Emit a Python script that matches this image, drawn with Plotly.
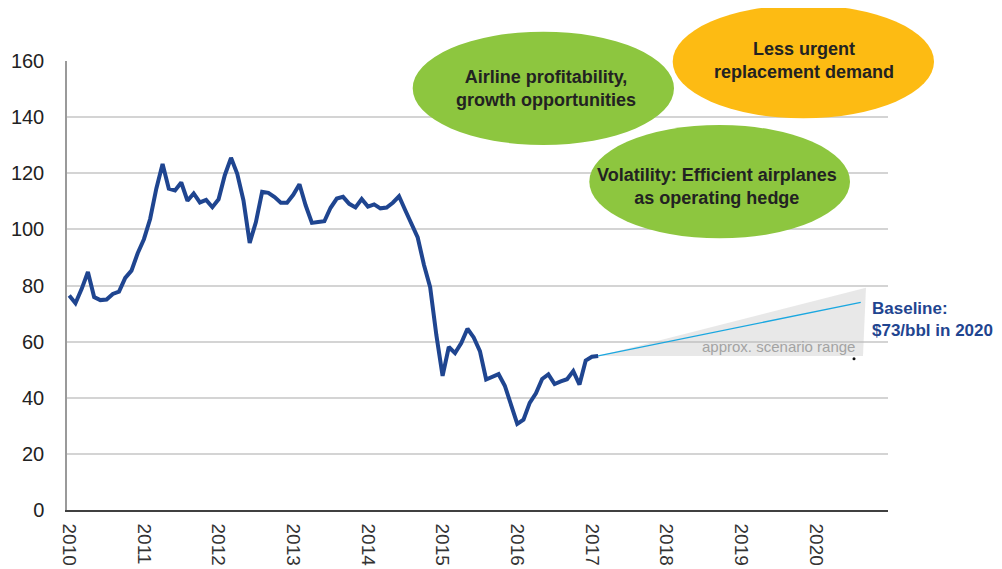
import plotly.graph_objects as go

# ---------------- data ----------------
start_year = 2010
# monthly oil price (USD/bbl), Jan 2010 .. Feb 2017
price = [
    76.4, 73.7, 78.8, 84.8, 75.9, 74.8, 75.0, 77.0, 77.8, 82.7, 85.3, 91.5,
    96.5, 103.7, 114.6, 123.3, 114.5, 113.9, 116.7, 110.2, 112.8, 109.6, 110.5, 107.9,
    110.7, 119.3, 125.5, 119.8, 110.3, 95.2, 102.6, 113.4, 113.0, 111.5, 109.5, 109.5,
    112.3, 116.1, 108.5, 102.3, 102.6, 102.9, 107.7, 111.0, 111.6, 109.1, 107.8, 110.8,
    108.1, 108.9, 107.5, 107.8, 109.5, 111.8, 106.8, 101.6, 97.1, 87.4, 79.4, 62.3,
    47.8, 58.1, 55.9, 59.5, 64.6, 61.5, 56.6, 46.5, 47.6, 48.4, 44.3, 38.0,
    30.7, 32.2, 38.2, 41.6, 46.7, 48.3, 44.9, 45.8, 46.6, 49.5, 44.7, 53.3,
    54.6, 54.9,
]
x_hist = [start_year + i / 12 for i in range(len(price))]

# baseline projection and scenario range
baseline_x = [x_hist[-1], 2020.60]
baseline_y = [price[-1], 74.0]
range_x = [x_hist[-1], 2020.67, 2020.63, x_hist[-1]]
range_y = [price[-1], 79.2, price[-1], price[-1]]

year_ticks = list(range(2010, 2021))
year_labels = [str(y) for y in year_ticks]
y_ticks = [0, 20, 40, 60, 80, 100, 120, 140, 160]

# ---------------- layout constants ----------------
OFF = 8                       # default page body margin
W, H = 1002 - OFF, 569 - OFF
PLOT_L, PLOT_R, PLOT_T, PLOT_B = 67, 888, 61, 510   # page pixel box of plot area
L, T = PLOT_L - OFF, PLOT_T - OFF
R, B = W - (PLOT_R - OFF), H - (PLOT_B - OFF)
PW, PH = PLOT_R - PLOT_L, PLOT_B - PLOT_T

def px(xpix):
    return (xpix - PLOT_L) / PW

def py(ypix):
    return (PLOT_B - ypix) / PH

FONT = "Arial, Liberation Sans, sans-serif"
BLUE = "#1f4590"
GREEN = "#8dc63f"
ORANGE = "#fdbb13"

fig = go.Figure()

fig.add_trace(go.Scatter(
    x=range_x, y=range_y, mode="lines", fill="toself",
    fillcolor="rgba(185,185,185,0.33)", line=dict(width=0),
    hoverinfo="skip", showlegend=False,
))
fig.add_trace(go.Scatter(
    x=baseline_x, y=baseline_y, mode="lines",
    line=dict(color="#1aa7e0", width=1.3), showlegend=False,
))
fig.add_trace(go.Scatter(
    x=x_hist, y=price, mode="lines",
    line=dict(color=BLUE, width=4), showlegend=False,
))

# ellipses (page pixel boxes -> paper coords)
ellipses = [
    (412.7, 31.7, 674.0, 145.0, GREEN),
    (672.7, 5.0, 934.0, 118.3, ORANGE),
    (589.3, 125.0, 850.0, 238.3, GREEN),
]
for x0, y0, x1, y1, col in ellipses:
    fig.add_shape(type="circle", xref="paper", yref="paper",
                  x0=px(x0), x1=px(x1), y0=py(y1), y1=py(y0),
                  fillcolor=col, line=dict(width=0), layer="above")

# tiny dot
fig.add_shape(type="circle", xref="paper", yref="paper",
              x0=px(852.5), x1=px(855.5), y0=py(360.2), y1=py(357.2),
              fillcolor="#111111", line=dict(width=0))

texts = [
    ("Airline profitability,<br>growth opportunities", 546, 88.2),
    ("Less urgent<br>replacement demand", 804, 60.2),
    ("Volatility: Efficient airplanes<br>as operating hedge", 717, 186),
]
for t, cx, cy in texts:
    fig.add_annotation(text=f"<b>{t}</b>", xref="paper", yref="paper",
                       x=px(cx), y=py(cy), showarrow=False,
                       xanchor="center", yanchor="middle",
                       font=dict(family=FONT, size=18, color="#222222"))

fig.add_annotation(text="<b>Baseline:<br>$73/bbl in 2020</b>", xref="paper", yref="paper",
                   x=px(870), y=py(319.5), showarrow=False, align="left",
                   xanchor="left", yanchor="middle",
                   font=dict(family=FONT, size=17, color=BLUE))
fig.add_annotation(text="approx. scenario range", xref="paper", yref="paper",
                   x=px(857), y=py(346), showarrow=False,
                   xanchor="right", yanchor="middle",
                   font=dict(family=FONT, size=15, color="#a3a3a3"))

fig.update_layout(
    width=W, height=H,
    margin=dict(l=L, r=R, t=T, b=B, pad=0, autoexpand=False),
    paper_bgcolor="white", plot_bgcolor="white",
    showlegend=False,
    xaxis=dict(
        range=[2009.97, 2020.965], tickmode="array",
        tickvals=year_ticks, ticktext=year_labels, tickangle=90,
        showgrid=False, zeroline=False, automargin=False,
        showline=True, linecolor="#404040", linewidth=1.5,
        ticks="", ticklabelstandoff=8,
        tickfont=dict(family=FONT, size=19, color="#333333"),
    ),
    yaxis=dict(
        range=[0, 160], tickmode="array", tickvals=y_ticks,
        showgrid=True, gridcolor="#d4d4d4", gridwidth=1.5, automargin=False,
        zeroline=False, showline=True, linecolor="#9a9a9a", linewidth=1.5,
        ticks="", ticklabelstandoff=17,
        tickfont=dict(family=FONT, size=20, color="#222222"),
    ),
)

fig.write_html("out.html")
